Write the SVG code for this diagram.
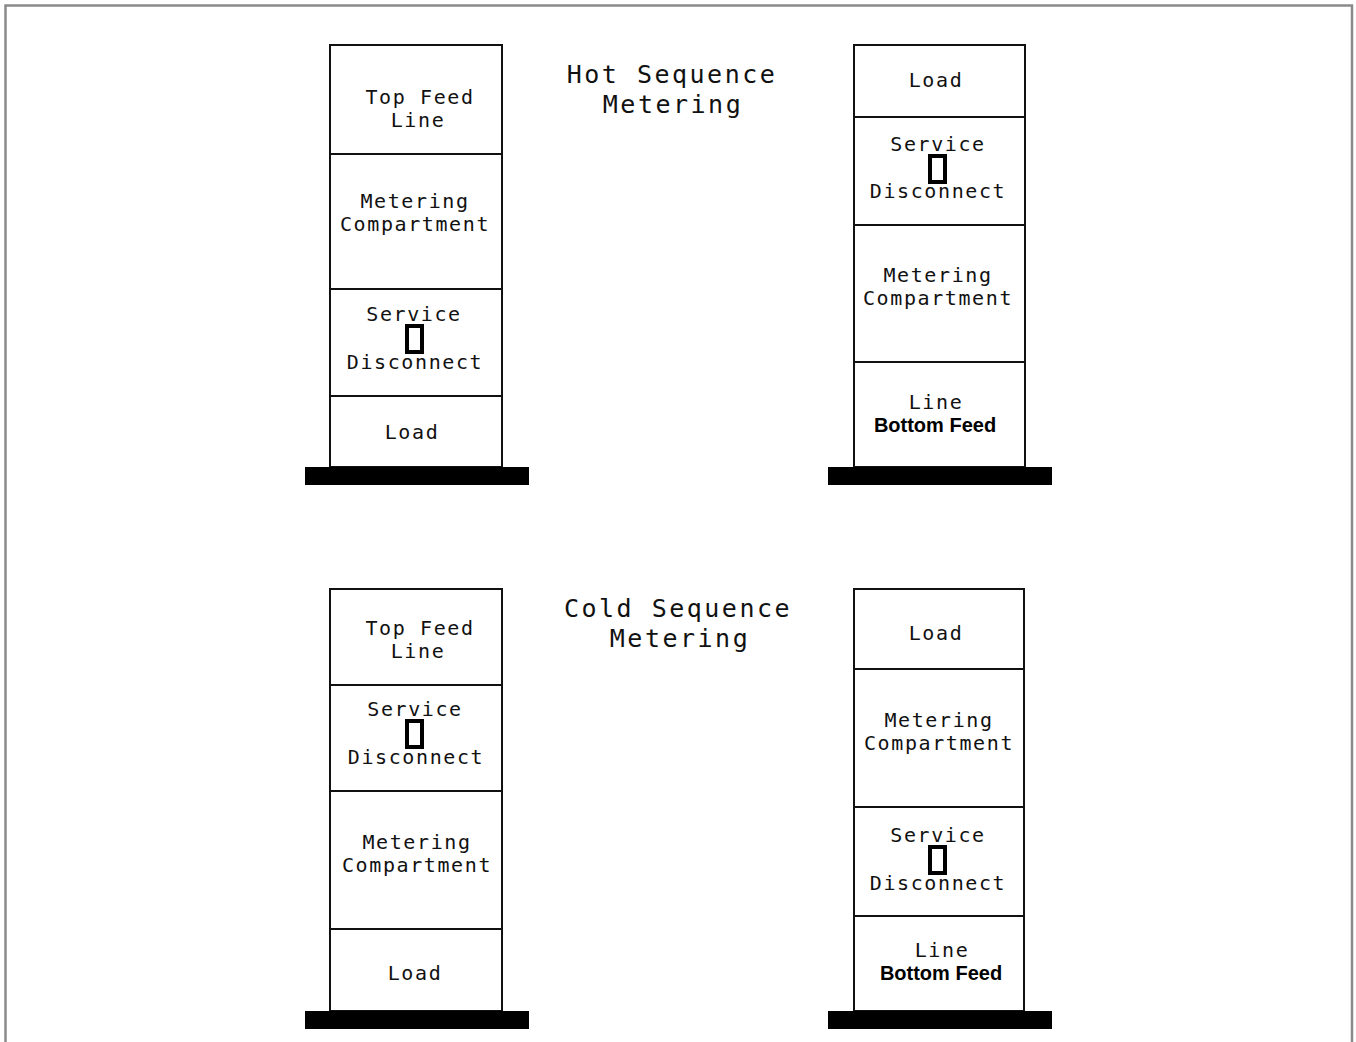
<svg xmlns="http://www.w3.org/2000/svg" width="1356" height="1042" viewBox="0 0 1356 1042">
<style>
.bg{fill:#fff}
.frame{fill:none;stroke:#8a8a8a;stroke-width:2.5}
.cell{fill:#fff;stroke:#111;stroke-width:2}
.base{fill:#000}
.sw{fill:none;stroke:#000;stroke-width:4}
.t{font-family:"DejaVu Sans Mono","Liberation Mono",monospace;font-size:20px;letter-spacing:1.6px;text-anchor:middle;fill:#111}
.h{font-family:"DejaVu Sans Mono","Liberation Mono",monospace;font-size:25px;letter-spacing:2.5px;text-anchor:middle;fill:#111}
.b{font-family:"Liberation Sans",Arial,sans-serif;font-size:20px;font-weight:bold;text-anchor:middle;fill:#000}
</style>
<rect class="bg" x="0" y="0" width="1356" height="1042"/>
<path class="frame" d="M5.5,1042 V5.5 H1352 V1042"/>

<g id="title-hot">
<text class="h" x="672" y="83">Hot Sequence</text>
<text class="h" x="673" y="113">Metering</text>
</g>
<g id="title-cold">
<text class="h" x="678" y="617">Cold Sequence</text>
<text class="h" x="680" y="647">Metering</text>
</g>

<!-- Top-left cabinet -->
<g id="hot-top-feed">
<rect class="cell" x="330" y="45" width="172" height="109"/>
<text class="t" x="420" y="104">Top Feed</text>
<text class="t" x="418" y="127">Line</text>
</g>
<g id="hot-top-metering">
<rect class="cell" x="330" y="154" width="172" height="135"/>
<text class="t" x="415" y="208">Metering</text>
<text class="t" x="415" y="231">Compartment</text>
</g>
<g id="hot-top-service">
<rect class="cell" x="330" y="289" width="172" height="107"/>
<text class="t" x="414" y="321">Service</text>
<rect class="sw" x="407" y="326" width="15" height="26"/>
<text class="t" x="415" y="369">Disconnect</text>
</g>
<g id="hot-top-load">
<rect class="cell" x="330" y="396" width="172" height="71"/>
<text class="t" x="412" y="439">Load</text>
</g>
<rect id="hot-top-base" class="base" x="305" y="467" width="224" height="18"/>

<!-- Top-right cabinet -->
<g id="hot-bottom-load">
<rect class="cell" x="854" y="45" width="171" height="72"/>
<text class="t" x="936" y="87">Load</text>
</g>
<g id="hot-bottom-service">
<rect class="cell" x="854" y="117" width="171" height="108"/>
<text class="t" x="938" y="151">Service</text>
<rect class="sw" x="930" y="156" width="15" height="26"/>
<text class="t" x="938" y="198">Disconnect</text>
</g>
<g id="hot-bottom-metering">
<rect class="cell" x="854" y="225" width="171" height="137"/>
<text class="t" x="938" y="282">Metering</text>
<text class="t" x="938" y="305">Compartment</text>
</g>
<g id="hot-bottom-feed">
<rect class="cell" x="854" y="362" width="171" height="105"/>
<text class="t" x="936" y="409">Line</text>
<text class="b" x="935" y="432">Bottom Feed</text>
</g>
<rect id="hot-bottom-base" class="base" x="828" y="467" width="224" height="18"/>

<!-- Bottom-left cabinet -->
<g id="cold-top-feed">
<rect class="cell" x="330" y="589" width="172" height="96"/>
<text class="t" x="420" y="635">Top Feed</text>
<text class="t" x="418" y="658">Line</text>
</g>
<g id="cold-top-service">
<rect class="cell" x="330" y="685" width="172" height="106"/>
<text class="t" x="415" y="716">Service</text>
<rect class="sw" x="407" y="721" width="15" height="26"/>
<text class="t" x="416" y="764">Disconnect</text>
</g>
<g id="cold-top-metering">
<rect class="cell" x="330" y="791" width="172" height="138"/>
<text class="t" x="417" y="849">Metering</text>
<text class="t" x="417" y="872">Compartment</text>
</g>
<g id="cold-top-load">
<rect class="cell" x="330" y="929" width="172" height="82"/>
<text class="t" x="415" y="980">Load</text>
</g>
<rect id="cold-top-base" class="base" x="305" y="1011" width="224" height="18"/>

<!-- Bottom-right cabinet -->
<g id="cold-bottom-load">
<rect class="cell" x="854" y="589" width="170" height="80"/>
<text class="t" x="936" y="640">Load</text>
</g>
<g id="cold-bottom-metering">
<rect class="cell" x="854" y="669" width="170" height="138"/>
<text class="t" x="939" y="727">Metering</text>
<text class="t" x="939" y="750">Compartment</text>
</g>
<g id="cold-bottom-service">
<rect class="cell" x="854" y="807" width="170" height="109"/>
<text class="t" x="938" y="842">Service</text>
<rect class="sw" x="930" y="847" width="15" height="26"/>
<text class="t" x="938" y="890">Disconnect</text>
</g>
<g id="cold-bottom-feed">
<rect class="cell" x="854" y="916" width="170" height="95"/>
<text class="t" x="942" y="957">Line</text>
<text class="b" x="941" y="980">Bottom Feed</text>
</g>
<rect id="cold-bottom-base" class="base" x="828" y="1011" width="224" height="18"/>

<g id="connectors"></g>
</svg>
